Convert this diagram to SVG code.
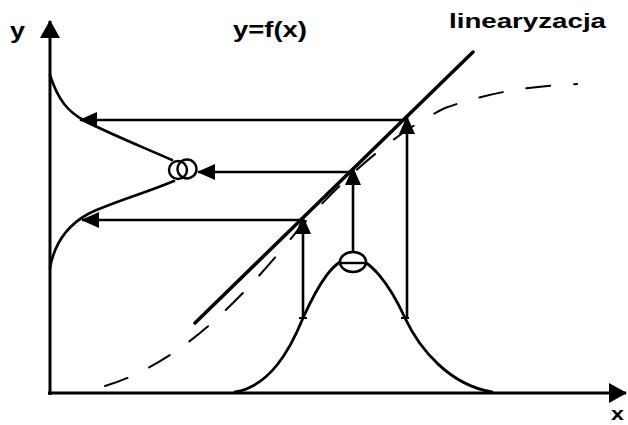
<svg xmlns="http://www.w3.org/2000/svg" width="628" height="425" viewBox="0 0 628 425">
<style>
.t{font-family:"Liberation Sans",Arial,sans-serif;font-weight:bold;fill:#000}
.ln{fill:none;stroke:#000;stroke-linecap:round}
.ar{fill:none;stroke:#000;stroke-width:2.6}
</style>
<defs>
<marker id="ah" markerWidth="18" markerHeight="16" refX="17" refY="8" orient="auto" markerUnits="userSpaceOnUse">
<path d="M0,0 L18,8 L0,16 Z" fill="#000"/>
</marker>
<marker id="axh" markerWidth="18" markerHeight="20" refX="17" refY="10" orient="auto" markerUnits="userSpaceOnUse">
<path d="M0,0 L18,10 L0,20 Z" fill="#000"/>
</marker>
</defs>
<rect width="628" height="425" fill="#fff"/>
<g id="axes">
<line x1="50" y1="395" x2="50" y2="21" stroke="#000" stroke-width="3" marker-end="url(#axh)"/>
<line x1="48" y1="393" x2="626" y2="393" stroke="#000" stroke-width="3" marker-end="url(#axh)"/>
</g>
<g id="labels">
<text class="t" x="10" y="38" font-size="22" textLength="15" lengthAdjust="spacingAndGlyphs">y</text>
<text class="t" x="611" y="420" font-size="19" textLength="13" lengthAdjust="spacingAndGlyphs">x</text>
<text class="t" x="233" y="37" font-size="22" textLength="74" lengthAdjust="spacingAndGlyphs">y=f(x)</text>
<text class="t" x="449" y="28" font-size="21" textLength="157" lengthAdjust="spacingAndGlyphs">linearyzacja</text>
</g>
<g id="dashed-curve">
<path class="ln" stroke-width="2" stroke-dasharray="24 24" d="M105,386 C140,376 180,352 215,320 C250,288 275,258 298,230 C340,182 390,135 445,108 C490,92 530,86 577,84"/>
</g>
<g id="linearization">
<line class="ln" x1="195" y1="323" x2="473" y2="52" stroke-width="3.5"/>
</g>
<g id="input-distribution">
<path class="ln" stroke-width="2.8" d="M235,392 C270,386 290,350 303,318 C318,285 334,258 352,258 C370,258 390,285 405,318 C420,350 450,385 492,392"/>
<ellipse cx="353" cy="262" rx="13" ry="10" fill="#fff" stroke="#000" stroke-width="2.6"/>
<line x1="341" y1="263" x2="365" y2="263" stroke="#000" stroke-width="2.4"/>
<line x1="299" y1="318" x2="307" y2="318" stroke="#000" stroke-width="2"/>
<line x1="401" y1="318" x2="409" y2="318" stroke="#000" stroke-width="2"/>
</g>
<g id="output-distribution">
<path class="ln" stroke-width="2.6" d="M50,75 C58,100 68,112 85,121 C110,134 145,148 172,160"/>
<path class="ln" stroke-width="2.6" d="M174,181 C140,195 110,203 88,214 C70,224 55,240 50,268"/>
<circle cx="178" cy="170" r="9" fill="#fff" stroke="#000" stroke-width="2.4"/>
<circle cx="187" cy="169" r="9.5" fill="none" stroke="#000" stroke-width="2.4"/>
</g>
<g id="connectors">
<line class="ar" x1="303" y1="318" x2="303" y2="217" marker-end="url(#ah)"/>
<line class="ar" x1="353" y1="252" x2="353" y2="168" marker-end="url(#ah)"/>
<line class="ar" x1="407" y1="318" x2="407" y2="117" marker-end="url(#ah)"/>
<line class="ar" x1="407" y1="120" x2="80" y2="120" marker-end="url(#ah)"/>
<line class="ar" x1="353" y1="172" x2="198" y2="172" marker-end="url(#ah)"/>
<line class="ar" x1="303" y1="220" x2="82" y2="220" marker-end="url(#ah)"/>
</g>
</svg>
